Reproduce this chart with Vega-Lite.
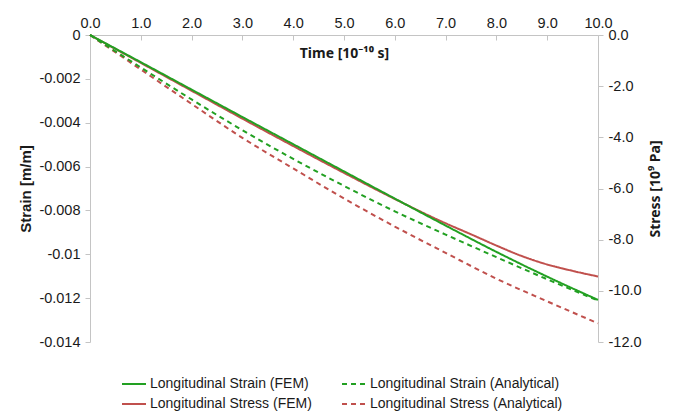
{
  "$schema": "https://vega.github.io/schema/vega-lite/v6.json",
  "width": 508,
  "height": 307,
  "autosize": {"type": "none"},
  "padding": {"left": 90, "top": 35, "right": 91, "bottom": 71},
  "background": "white",
  "config": {
    "view": {"stroke": null},
    "font": "Liberation Sans",
    "axis": {
      "grid": false,
      "labelFlush": false,
      "domainColor": "#c4c4c4",
      "tickColor": "#c4c4c4",
      "labelColor": "#1a1a1a",
      "titleColor": "#1a1a1a",
      "labelFont": "Liberation Sans",
      "titleFont": "Liberation Sans",
      "labelFontSize": 14.5,
      "titleFontSize": 15,
      "titleFontWeight": "bold",
      "tickSize": 5
    },
    "legend": {
      "orient": "none",
      "legendX": 31,
      "legendY": 336,
      "columns": 2,
      "direction": "horizontal",
      "symbolType": "stroke",
      "symbolSize": 576,
      "symbolStrokeWidth": 2,
      "labelFont": "Liberation Sans",
      "labelFontSize": 14,
      "labelColor": "#1a1a1a",
      "columnPadding": 26,
      "rowPadding": 0,
      "labelOffset": 3,
      "padding": 0,
      "labelLimit": 300
    }
  },
  "data": {
    "values": [
      {"t": 0, "v": 0, "series": "Longitudinal Strain (FEM)", "kind": "strain"},
      {"t": 1, "v": -0.00124, "series": "Longitudinal Strain (FEM)", "kind": "strain"},
      {"t": 2, "v": -0.00249, "series": "Longitudinal Strain (FEM)", "kind": "strain"},
      {"t": 3, "v": -0.00374, "series": "Longitudinal Strain (FEM)", "kind": "strain"},
      {"t": 4, "v": -0.00498, "series": "Longitudinal Strain (FEM)", "kind": "strain"},
      {"t": 5, "v": -0.00622, "series": "Longitudinal Strain (FEM)", "kind": "strain"},
      {"t": 6, "v": -0.00746, "series": "Longitudinal Strain (FEM)", "kind": "strain"},
      {"t": 7, "v": -0.00869, "series": "Longitudinal Strain (FEM)", "kind": "strain"},
      {"t": 8, "v": -0.00989, "series": "Longitudinal Strain (FEM)", "kind": "strain"},
      {"t": 9, "v": -0.01102, "series": "Longitudinal Strain (FEM)", "kind": "strain"},
      {"t": 10, "v": -0.01208, "series": "Longitudinal Strain (FEM)", "kind": "strain"},
      {"t": 0, "v": 0, "series": "Longitudinal Strain (Analytical)", "kind": "strain"},
      {"t": 1, "v": -0.00148, "series": "Longitudinal Strain (Analytical)", "kind": "strain"},
      {"t": 2, "v": -0.00294, "series": "Longitudinal Strain (Analytical)", "kind": "strain"},
      {"t": 3, "v": -0.00434, "series": "Longitudinal Strain (Analytical)", "kind": "strain"},
      {"t": 4, "v": -0.00565, "series": "Longitudinal Strain (Analytical)", "kind": "strain"},
      {"t": 5, "v": -0.00688, "series": "Longitudinal Strain (Analytical)", "kind": "strain"},
      {"t": 6, "v": -0.00804, "series": "Longitudinal Strain (Analytical)", "kind": "strain"},
      {"t": 7, "v": -0.0091, "series": "Longitudinal Strain (Analytical)", "kind": "strain"},
      {"t": 8, "v": -0.01013, "series": "Longitudinal Strain (Analytical)", "kind": "strain"},
      {"t": 9, "v": -0.01114, "series": "Longitudinal Strain (Analytical)", "kind": "strain"},
      {"t": 10, "v": -0.01211, "series": "Longitudinal Strain (Analytical)", "kind": "strain"},
      {"t": 0, "v": 0, "series": "Longitudinal Stress (FEM)", "kind": "stress"},
      {"t": 1, "v": -1.09, "series": "Longitudinal Stress (FEM)", "kind": "stress"},
      {"t": 2, "v": -2.18, "series": "Longitudinal Stress (FEM)", "kind": "stress"},
      {"t": 3, "v": -3.27, "series": "Longitudinal Stress (FEM)", "kind": "stress"},
      {"t": 4, "v": -4.34, "series": "Longitudinal Stress (FEM)", "kind": "stress"},
      {"t": 5, "v": -5.39, "series": "Longitudinal Stress (FEM)", "kind": "stress"},
      {"t": 6, "v": -6.41, "series": "Longitudinal Stress (FEM)", "kind": "stress"},
      {"t": 7, "v": -7.36, "series": "Longitudinal Stress (FEM)", "kind": "stress"},
      {"t": 7.5, "v": -7.79, "series": "Longitudinal Stress (FEM)", "kind": "stress"},
      {"t": 8, "v": -8.23, "series": "Longitudinal Stress (FEM)", "kind": "stress"},
      {"t": 8.5, "v": -8.64, "series": "Longitudinal Stress (FEM)", "kind": "stress"},
      {"t": 9, "v": -8.97, "series": "Longitudinal Stress (FEM)", "kind": "stress"},
      {"t": 9.5, "v": -9.22, "series": "Longitudinal Stress (FEM)", "kind": "stress"},
      {"t": 10, "v": -9.44, "series": "Longitudinal Stress (FEM)", "kind": "stress"},
      {"t": 0, "v": 0, "series": "Longitudinal Stress (Analytical)", "kind": "stress"},
      {"t": 1, "v": -1.347, "series": "Longitudinal Stress (Analytical)", "kind": "stress"},
      {"t": 2, "v": -2.694, "series": "Longitudinal Stress (Analytical)", "kind": "stress"},
      {"t": 3, "v": -4.021, "series": "Longitudinal Stress (Analytical)", "kind": "stress"},
      {"t": 4, "v": -5.215, "series": "Longitudinal Stress (Analytical)", "kind": "stress"},
      {"t": 5, "v": -6.39, "series": "Longitudinal Stress (Analytical)", "kind": "stress"},
      {"t": 6, "v": -7.486, "series": "Longitudinal Stress (Analytical)", "kind": "stress"},
      {"t": 7, "v": -8.516, "series": "Longitudinal Stress (Analytical)", "kind": "stress"},
      {"t": 8, "v": -9.526, "series": "Longitudinal Stress (Analytical)", "kind": "stress"},
      {"t": 9, "v": -10.411, "series": "Longitudinal Stress (Analytical)", "kind": "stress"},
      {"t": 10, "v": -11.268, "series": "Longitudinal Stress (Analytical)", "kind": "stress"}
    ]
  },
  "layer": [
    {
      "transform": [{"filter": "datum.kind == 'stress'"}],
      "mark": {"type": "line", "strokeWidth": 2, "interpolate": "monotone"},
      "encoding": {
        "x": {
          "field": "t", "type": "quantitative",
          "scale": {"domain": [0, 10], "nice": false},
          "axis": {
            "orient": "top",
            "values": [0, 1, 2, 3, 4, 5, 6, 7, 8, 9, 10],
            "format": ".1f",
            "title": "Time [10⁻¹⁰ s]",
            "titleFont": "Noto Sans",
            "titleFontSize": 14,
            "titleX": 254,
            "titleY": 18,
            "titleBaseline": "middle",
            "titleAlign": "center",
            "tickSize": -5,
            "labelPadding": 10
          }
        },
        "y": {
          "field": "v", "type": "quantitative",
          "scale": {"domain": [-12, 0], "nice": false, "zero": false},
          "axis": {
            "orient": "right",
            "values": [0, -2, -4, -6, -8, -10, -12],
            "labelExpr": "replace(format(datum.value, '.1f'), '−', '-')",
            "labelPadding": 5,
            "title": "Stress [10⁹ Pa]",
            "titleFont": "Noto Sans",
            "titleFontSize": 14,
            "titleX": 57,
            "titleY": 153.5,
            "titleAngle": -90,
            "titleBaseline": "middle",
            "titleAlign": "center"
          }
        },
        "color": {
          "field": "series", "type": "nominal",
          "scale": {
            "domain": ["Longitudinal Strain (FEM)", "Longitudinal Strain (Analytical)", "Longitudinal Stress (FEM)", "Longitudinal Stress (Analytical)"],
            "range": ["#22a022", "#22a022", "#c0504d", "#c0504d"]
          },
          "legend": {"title": null}
        },
        "strokeDash": {
          "field": "series", "type": "nominal",
          "scale": {
            "domain": ["Longitudinal Strain (FEM)", "Longitudinal Strain (Analytical)", "Longitudinal Stress (FEM)", "Longitudinal Stress (Analytical)"],
            "range": [[1, 0], [5, 4], [1, 0], [5, 4]]
          },
          "legend": {"title": null}
        }
      }
    },
    {
      "transform": [{"filter": "datum.kind == 'strain'"}],
      "mark": {"type": "line", "strokeWidth": 2, "interpolate": "monotone"},
      "encoding": {
        "x": {"field": "t", "type": "quantitative", "scale": {"domain": [0, 10], "nice": false}},
        "y": {
          "field": "v", "type": "quantitative",
          "scale": {"domain": [-0.014, 0], "nice": false, "zero": false},
          "axis": {
            "orient": "left",
            "values": [0, -0.002, -0.004, -0.006, -0.008, -0.01, -0.012, -0.014],
            "labelExpr": "datum.value == 0 ? '0' : replace(format(datum.value, '~g'), '−', '-')",
            "labelPadding": 5,
            "title": "Strain [m/m]",
            "titleX": -65,
            "titleY": 153.5,
            "titleAngle": -90,
            "titleBaseline": "middle",
            "titleAlign": "center"
          }
        },
        "color": {"field": "series", "type": "nominal", "legend": {"title": null}},
        "strokeDash": {"field": "series", "type": "nominal", "legend": {"title": null}}
      }
    }
  ],
  "resolve": {"scale": {"y": "independent"}}
}
